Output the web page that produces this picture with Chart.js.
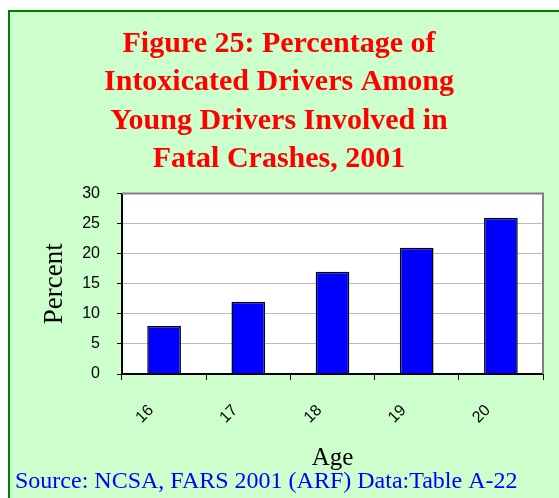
<!DOCTYPE html>
<html>
<head>
<meta charset="utf-8">
<script src="https://cdn.jsdelivr.net/npm/chart.js@4.4.0/dist/chart.umd.min.js"></script>
<style>
  html, body { margin: 0; padding: 0; background: #fff; }
  body { width: 559px; height: 498px; position: relative; overflow: hidden; }
  #cadre { position: absolute; left: 8px; top: 10px; width: 600px; height: 600px; border: 2px solid #008000; background: #ccffcc; }
  #zone { position: absolute; left: 0; top: 0; width: 545px; height: 498px; }
</style>
</head>
<body>
<div id="cadre"></div>
<div id="zone"><canvas id="chart-ivresse"></canvas></div>
<script>
// Données du graphique
const ages = ['16', '17', '18', '19', '20'];
const pourcentages = [8, 12, 17, 21, 26];
const titreLignes = [
    'Figure 25: Percentage of',
    'Intoxicated Drivers Among',
    'Young Drivers Involved in',
    'Fatal Crashes, 2001'
];
const source = 'Source: NCSA, FARS 2001 (ARF) Data:Table A-22';
const yMin = 0;
const yMax = 30;
const yPas = 5;

const serif = "'Times New Roman', 'Liberation Serif', serif";
const sans = "Arial, 'Liberation Sans', sans-serif";

/**
 * Fond blanc de la zone de tracé + bordure grise haut/droite
 */
const fondGraphique = {
    id: 'fondGraphique',
    beforeDraw(chart) {
        const { ctx, chartArea: a } = chart;
        ctx.save();
        ctx.fillStyle = '#ffffff';
        ctx.fillRect(a.left, a.top, a.right - a.left, a.bottom - a.top);
        ctx.restore();
    },
    beforeDatasetsDraw(chart) {
        const { ctx, chartArea: a } = chart;
        ctx.save();
        ctx.strokeStyle = '#808080';
        ctx.lineWidth = 2;
        ctx.beginPath();
        ctx.moveTo(a.left, a.top);
        ctx.lineTo(a.right, a.top);
        ctx.lineTo(a.right, a.bottom);
        ctx.stroke();
        ctx.restore();
    }
};

const ctxIvresse = document.getElementById('chart-ivresse');
const chartIvresse = new Chart(ctxIvresse, {
    type: 'bar',
    data: {
        labels: ages,
        datasets: [{
            label: 'Percent',
            data: pourcentages,
            backgroundColor: '#0000ff',
            borderColor: '#000000',
            borderWidth: 1.5,
            barPercentage: 0.4,
            categoryPercentage: 1.0
        }]
    },
    options: {
        responsive: true,
        maintainAspectRatio: false,
        animation: false,
        layout: { padding: { left: 15, right: 2, top: 0, bottom: 0 } },
        plugins: {
            legend: { display: false },
            tooltip: { enabled: false },
            title: {
                display: true,
                text: titreLignes,
                color: '#ff0000',
                font: { family: serif, size: 30, weight: 'bold', lineHeight: 1.28 },
                padding: { top: 25, bottom: 15 }
            },
            subtitle: {
                display: true,
                position: 'bottom',
                align: 'start',
                text: source,
                color: '#0000ff',
                font: { family: serif, size: 24, lineHeight: 1 },
                padding: { top: 0, bottom: 4 }
            }
        },
        scales: {
            x: {
                afterFit(scale) { scale.height = 96; },
                grid: { drawOnChartArea: false, tickColor: '#000000', tickLength: 6, offset: true },
                border: { color: '#000000', width: 2 },
                ticks: {
                    color: '#000000',
                    font: { family: sans, size: 16 },
                    minRotation: 45,
                    maxRotation: 45,
                    padding: 21,
                    labelOffset: -13
                },
                title: {
                    display: true,
                    text: 'Age',
                    color: '#000000',
                    font: { family: serif, size: 25, lineHeight: 1 },
                    padding: { top: 0, bottom: -1 }
                }
            },
            y: {
                min: yMin,
                max: yMax,
                afterFit(scale) { scale.width = 107; },
                grid: { color: '#bbbbbb', tickColor: '#000000', tickLength: 5 },
                border: { color: '#000000', width: 2 },
                ticks: {
                    stepSize: yPas,
                    color: '#000000',
                    font: { family: sans, size: 16 },
                    padding: 17
                },
                title: {
                    display: true,
                    text: 'Percent',
                    color: '#000000',
                    font: { family: serif, size: 27, lineHeight: 1 },
                    padding: { top: 26, bottom: 0 }
                }
            }
        }
    },
    plugins: [fondGraphique]
});
</script>
</body>
</html>
